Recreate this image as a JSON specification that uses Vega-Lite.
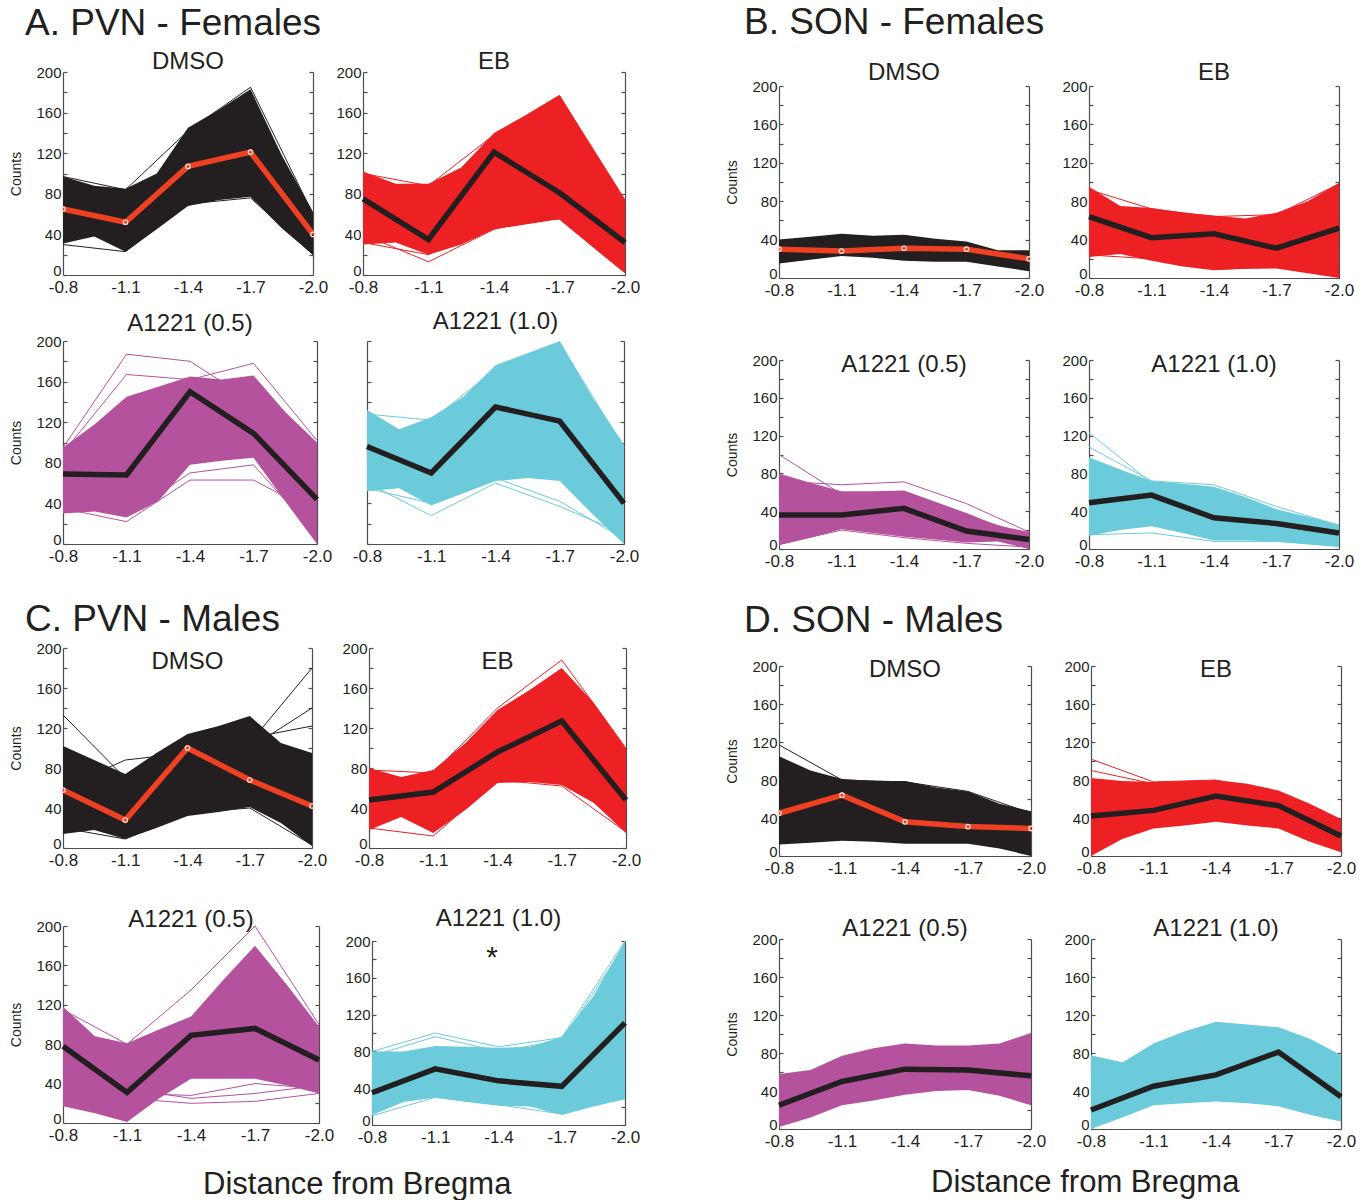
{
"$schema": "https://vega.github.io/schema/vega-lite/v6.json",
"padding": {"left": 9, "top": 4, "right": 0, "bottom": 0},
"background": "white",
"datasets": {
"band": [
{"p":"A1","x":-0.8,"lo":31,"hi":97},{"p":"A1","x":-0.95,"lo":38,"hi":88},{"p":"A1","x":-1.1,"lo":23,"hi":85},{"p":"A1","x":-1.25,"lo":45,"hi":100},{"p":"A1","x":-1.4,"lo":68,"hi":145},{"p":"A1","x":-1.55,"lo":74,"hi":163},{"p":"A1","x":-1.7,"lo":77,"hi":183},{"p":"A1","x":-1.85,"lo":46,"hi":118},{"p":"A1","x":-2,"lo":20,"hi":62},
{"p":"A2","x":-0.8,"lo":30,"hi":102},{"p":"A2","x":-0.95,"lo":32,"hi":90},{"p":"A2","x":-1.1,"lo":20,"hi":90},{"p":"A2","x":-1.25,"lo":30,"hi":106},{"p":"A2","x":-1.4,"lo":45,"hi":140},{"p":"A2","x":-1.55,"lo":50,"hi":158},{"p":"A2","x":-1.7,"lo":55,"hi":177},{"p":"A2","x":-1.85,"lo":28,"hi":126},{"p":"A2","x":-2,"lo":2,"hi":75},
{"p":"A3","x":-0.8,"lo":30,"hi":95},{"p":"A3","x":-0.95,"lo":32,"hi":118},{"p":"A3","x":-1.1,"lo":26,"hi":145},{"p":"A3","x":-1.25,"lo":42,"hi":155},{"p":"A3","x":-1.4,"lo":78,"hi":165},{"p":"A3","x":-1.55,"lo":82,"hi":162},{"p":"A3","x":-1.7,"lo":85,"hi":166},{"p":"A3","x":-1.85,"lo":42,"hi":130},{"p":"A3","x":-2,"lo":0,"hi":100},
{"p":"A4","x":-0.8,"lo":52,"hi":132},{"p":"A4","x":-0.95,"lo":55,"hi":113},{"p":"A4","x":-1.1,"lo":38,"hi":125},{"p":"A4","x":-1.25,"lo":50,"hi":145},{"p":"A4","x":-1.4,"lo":62,"hi":176},{"p":"A4","x":-1.55,"lo":65,"hi":188},{"p":"A4","x":-1.7,"lo":62,"hi":200},{"p":"A4","x":-1.85,"lo":30,"hi":145},{"p":"A4","x":-2,"lo":0,"hi":98},
{"p":"B1","x":-0.8,"lo":15,"hi":40},{"p":"B1","x":-0.95,"lo":19,"hi":43},{"p":"B1","x":-1.1,"lo":23,"hi":46},{"p":"B1","x":-1.25,"lo":21,"hi":44},{"p":"B1","x":-1.4,"lo":18,"hi":45},{"p":"B1","x":-1.55,"lo":17,"hi":41},{"p":"B1","x":-1.7,"lo":17,"hi":38},{"p":"B1","x":-1.85,"lo":12,"hi":29},{"p":"B1","x":-2,"lo":7,"hi":29},
{"p":"B2","x":-0.8,"lo":22,"hi":95},{"p":"B2","x":-0.95,"lo":25,"hi":75},{"p":"B2","x":-1.1,"lo":18,"hi":73},{"p":"B2","x":-1.25,"lo":12,"hi":68},{"p":"B2","x":-1.4,"lo":8,"hi":65},{"p":"B2","x":-1.55,"lo":10,"hi":62},{"p":"B2","x":-1.7,"lo":10,"hi":68},{"p":"B2","x":-1.85,"lo":5,"hi":80},{"p":"B2","x":-2,"lo":0,"hi":99},
{"p":"B3","x":-0.8,"lo":4,"hi":80},{"p":"B3","x":-0.95,"lo":12,"hi":70},{"p":"B3","x":-1.1,"lo":21,"hi":61},{"p":"B3","x":-1.25,"lo":17,"hi":61},{"p":"B3","x":-1.4,"lo":13,"hi":62},{"p":"B3","x":-1.55,"lo":10,"hi":50},{"p":"B3","x":-1.7,"lo":7,"hi":38},{"p":"B3","x":-1.85,"lo":8,"hi":25},{"p":"B3","x":-2,"lo":0,"hi":18},
{"p":"B4","x":-0.8,"lo":14,"hi":97},{"p":"B4","x":-0.95,"lo":20,"hi":84},{"p":"B4","x":-1.1,"lo":24,"hi":72},{"p":"B4","x":-1.25,"lo":17,"hi":69},{"p":"B4","x":-1.4,"lo":9,"hi":66},{"p":"B4","x":-1.55,"lo":9,"hi":55},{"p":"B4","x":-1.7,"lo":8,"hi":42},{"p":"B4","x":-1.85,"lo":5,"hi":34},{"p":"B4","x":-2,"lo":2,"hi":26},
{"p":"C1","x":-0.8,"lo":14,"hi":102},{"p":"C1","x":-0.95,"lo":18,"hi":88},{"p":"C1","x":-1.1,"lo":9,"hi":74},{"p":"C1","x":-1.25,"lo":20,"hi":95},{"p":"C1","x":-1.4,"lo":32,"hi":114},{"p":"C1","x":-1.55,"lo":36,"hi":122},{"p":"C1","x":-1.7,"lo":41,"hi":132},{"p":"C1","x":-1.85,"lo":25,"hi":105},{"p":"C1","x":-2,"lo":2,"hi":95},
{"p":"C2","x":-0.8,"lo":18,"hi":80},{"p":"C2","x":-0.95,"lo":31,"hi":71},{"p":"C2","x":-1.1,"lo":15,"hi":78},{"p":"C2","x":-1.25,"lo":38,"hi":105},{"p":"C2","x":-1.4,"lo":65,"hi":138},{"p":"C2","x":-1.55,"lo":66,"hi":158},{"p":"C2","x":-1.7,"lo":63,"hi":180},{"p":"C2","x":-1.85,"lo":45,"hi":145},{"p":"C2","x":-2,"lo":15,"hi":99},
{"p":"C3","x":-0.8,"lo":17,"hi":118},{"p":"C3","x":-0.95,"lo":10,"hi":88},{"p":"C3","x":-1.1,"lo":1,"hi":81},{"p":"C3","x":-1.25,"lo":25,"hi":95},{"p":"C3","x":-1.4,"lo":45,"hi":108},{"p":"C3","x":-1.55,"lo":45,"hi":145},{"p":"C3","x":-1.7,"lo":45,"hi":180},{"p":"C3","x":-1.85,"lo":38,"hi":140},{"p":"C3","x":-2,"lo":30,"hi":98},
{"p":"C4","x":-0.8,"lo":11,"hi":80},{"p":"C4","x":-0.95,"lo":25,"hi":80},{"p":"C4","x":-1.1,"lo":30,"hi":86},{"p":"C4","x":-1.25,"lo":25,"hi":85},{"p":"C4","x":-1.4,"lo":21,"hi":84},{"p":"C4","x":-1.55,"lo":20,"hi":85},{"p":"C4","x":-1.7,"lo":11,"hi":96},{"p":"C4","x":-1.85,"lo":20,"hi":140},{"p":"C4","x":-2,"lo":28,"hi":200},
{"p":"D1","x":-0.8,"lo":12,"hi":105},{"p":"D1","x":-0.95,"lo":14,"hi":90},{"p":"D1","x":-1.1,"lo":16,"hi":81},{"p":"D1","x":-1.25,"lo":15,"hi":79},{"p":"D1","x":-1.4,"lo":13,"hi":79},{"p":"D1","x":-1.55,"lo":13,"hi":72},{"p":"D1","x":-1.7,"lo":13,"hi":68},{"p":"D1","x":-1.85,"lo":8,"hi":55},{"p":"D1","x":-2,"lo":0,"hi":47},
{"p":"D2","x":-0.8,"lo":0,"hi":82},{"p":"D2","x":-0.95,"lo":18,"hi":79},{"p":"D2","x":-1.1,"lo":29,"hi":78},{"p":"D2","x":-1.25,"lo":32,"hi":79},{"p":"D2","x":-1.4,"lo":36,"hi":80},{"p":"D2","x":-1.55,"lo":32,"hi":76},{"p":"D2","x":-1.7,"lo":29,"hi":69},{"p":"D2","x":-1.85,"lo":15,"hi":55},{"p":"D2","x":-2,"lo":4,"hi":39},
{"p":"D3","x":-0.8,"lo":2,"hi":58},{"p":"D3","x":-0.95,"lo":12,"hi":62},{"p":"D3","x":-1.1,"lo":25,"hi":77},{"p":"D3","x":-1.25,"lo":30,"hi":85},{"p":"D3","x":-1.4,"lo":36,"hi":90},{"p":"D3","x":-1.55,"lo":40,"hi":88},{"p":"D3","x":-1.7,"lo":41,"hi":88},{"p":"D3","x":-1.85,"lo":35,"hi":90},{"p":"D3","x":-2,"lo":25,"hi":101},
{"p":"D4","x":-0.8,"lo":0,"hi":77},{"p":"D4","x":-0.95,"lo":12,"hi":70},{"p":"D4","x":-1.1,"lo":25,"hi":90},{"p":"D4","x":-1.25,"lo":27,"hi":103},{"p":"D4","x":-1.4,"lo":29,"hi":113},{"p":"D4","x":-1.55,"lo":27,"hi":110},{"p":"D4","x":-1.7,"lo":24,"hi":107},{"p":"D4","x":-1.85,"lo":15,"hi":95},{"p":"D4","x":-2,"lo":8,"hi":78}
],
"lines": [
{"p":"A1","x":-0.8,"m":65,"s1":97,"s2":30},{"p":"A1","x":-1.1,"m":52,"s1":84,"s2":23},{"p":"A1","x":-1.4,"m":107,"s1":142,"s2":70},{"p":"A1","x":-1.7,"m":121,"s1":185,"s2":76},{"p":"A1","x":-2,"m":40,"s1":60,"s2":20},
{"p":"A2","x":-0.8,"m":75,"s1":40,"s2":100,"s3":32},{"p":"A2","x":-1.1,"m":35,"s1":13,"s2":88,"s3":20},{"p":"A2","x":-1.4,"m":121,"s1":45,"s2":138,"s3":55},{"p":"A2","x":-1.7,"m":81,"s1":60,"s2":177,"s3":55},{"p":"A2","x":-2,"m":32,"s1":5,"s2":72,"s3":2},
{"p":"A3","x":-0.8,"m":69,"s1":95,"s2":90,"s3":35,"s4":38},{"p":"A3","x":-1.1,"m":68,"s1":187,"s2":167,"s3":22,"s4":28},{"p":"A3","x":-1.4,"m":150,"s1":180,"s2":162,"s3":63,"s4":70},{"p":"A3","x":-1.7,"m":109,"s1":140,"s2":178,"s3":63,"s4":78},{"p":"A3","x":-2,"m":44,"s1":75,"s2":102,"s3":30,"s4":8},
{"p":"A4","x":-0.8,"m":96,"s1":60,"s2":55,"s3":128},{"p":"A4","x":-1.1,"m":70,"s1":28,"s2":40,"s3":122},{"p":"A4","x":-1.4,"m":135,"s1":60,"s2":65,"s3":172},{"p":"A4","x":-1.7,"m":121,"s1":37,"s2":42,"s3":198},{"p":"A4","x":-2,"m":40,"s1":10,"s2":5,"s3":95},
{"p":"B1","x":-0.8,"m":30},{"p":"B1","x":-1.1,"m":28},{"p":"B1","x":-1.4,"m":31},{"p":"B1","x":-1.7,"m":30},{"p":"B1","x":-2,"m":20},
{"p":"B2","x":-0.8,"m":64,"s1":92,"s2":24},{"p":"B2","x":-1.1,"m":42,"s1":72,"s2":20},{"p":"B2","x":-1.4,"m":46,"s1":64,"s2":9},{"p":"B2","x":-1.7,"m":31,"s1":66,"s2":11},{"p":"B2","x":-2,"m":52,"s1":98,"s2":2},
{"p":"B3","x":-0.8,"m":36,"s1":100,"s2":72,"s3":5},{"p":"B3","x":-1.1,"m":36,"s1":58,"s2":68,"s3":20},{"p":"B3","x":-1.4,"m":43,"s1":55,"s2":71,"s3":12},{"p":"B3","x":-1.7,"m":19,"s1":35,"s2":48,"s3":6},{"p":"B3","x":-2,"m":10,"s1":15,"s2":18,"s3":2},
{"p":"B4","x":-0.8,"m":49,"s1":123,"s2":108,"s3":15,"s4":20},{"p":"B4","x":-1.1,"m":57,"s1":70,"s2":72,"s3":17,"s4":28},{"p":"B4","x":-1.4,"m":33,"s1":60,"s2":68,"s3":8,"s4":12},{"p":"B4","x":-1.7,"m":27,"s1":40,"s2":45,"s3":8,"s4":10},{"p":"B4","x":-2,"m":17,"s1":22,"s2":25,"s3":3,"s4":5},
{"p":"C1","x":-0.8,"m":58,"s1":133,"s2":60,"s3":50,"s4":20},{"p":"C1","x":-1.1,"m":28,"s1":70,"s2":88,"s3":45,"s4":9},{"p":"C1","x":-1.4,"m":100,"s1":95,"s2":95,"s3":90,"s4":35},{"p":"C1","x":-1.7,"m":68,"s1":105,"s2":100,"s3":110,"s4":40},{"p":"C1","x":-2,"m":42,"s1":180,"s2":140,"s3":122,"s4":3},
{"p":"C2","x":-0.8,"m":48,"s1":78,"s2":20},{"p":"C2","x":-1.1,"m":56,"s1":75,"s2":12},{"p":"C2","x":-1.4,"m":96,"s1":140,"s2":68},{"p":"C2","x":-1.7,"m":127,"s1":188,"s2":62},{"p":"C2","x":-2,"m":48,"s1":100,"s2":16},
{"p":"C3","x":-0.8,"m":78,"s1":115,"s2":30,"s3":25,"s4":40},{"p":"C3","x":-1.1,"m":31,"s1":80,"s2":25,"s3":30,"s4":35},{"p":"C3","x":-1.4,"m":89,"s1":135,"s2":20,"s3":28,"s4":25},{"p":"C3","x":-1.7,"m":96,"s1":200,"s2":22,"s3":40,"s4":30},{"p":"C3","x":-2,"m":64,"s1":100,"s2":30,"s3":35,"s4":38},
{"p":"C4","x":-0.8,"m":35,"s1":80,"s2":10,"s3":75},{"p":"C4","x":-1.1,"m":61,"s1":100,"s2":30,"s3":96},{"p":"C4","x":-1.4,"m":48,"s1":85,"s2":22,"s3":80},{"p":"C4","x":-1.7,"m":42,"s1":95,"s2":12,"s3":92},{"p":"C4","x":-2,"m":111,"s1":200,"s2":35,"s3":195},
{"p":"D1","x":-0.8,"m":45,"s1":117},{"p":"D1","x":-1.1,"m":64,"s1":80},{"p":"D1","x":-1.4,"m":36,"s1":78},{"p":"D1","x":-1.7,"m":31,"s1":68},{"p":"D1","x":-2,"m":29,"s1":45},
{"p":"D2","x":-0.8,"m":42,"s1":102,"s2":90},{"p":"D2","x":-1.1,"m":48,"s1":78,"s2":76},{"p":"D2","x":-1.4,"m":63,"s1":80,"s2":78},{"p":"D2","x":-1.7,"m":53,"s1":65,"s2":60},{"p":"D2","x":-2,"m":21,"s1":38,"s2":35},
{"p":"D3","x":-0.8,"m":25},{"p":"D3","x":-1.1,"m":50},{"p":"D3","x":-1.4,"m":63},{"p":"D3","x":-1.7,"m":62},{"p":"D3","x":-2,"m":56},
{"p":"D4","x":-0.8,"m":20,"s1":77,"s2":45},{"p":"D4","x":-1.1,"m":45,"s1":62,"s2":85},{"p":"D4","x":-1.4,"m":57,"s1":58,"s2":110},{"p":"D4","x":-1.7,"m":81,"s1":50,"s2":105},{"p":"D4","x":-2,"m":34,"s1":70,"s2":75}
],
"marks": [{"p":"C4","x":-1.37,"y":182,"t":"*"}]
},
"spacing": 84,
"hconcat": [
{"spacing": 37, "vconcat": [
 {"title": {"text": "A. PVN - Females", "fontSize": 37, "anchor": "start", "dx": 15, "offset": 7}, "spacing": 15, "vconcat": [
  {"spacing": 7, "hconcat": [
   {"width": 250, "height": 203, "title": {"text": "DMSO", "offset": -9, "frame": "group"},
    "encoding": {"x": {"field": "x", "type": "quantitative", "scale": {"domain": [-2, -0.8], "reverse": true, "nice": false, "zero": false}, "axis": {"values": [-0.8, -1.1, -1.4, -1.7, -2], "labelExpr": "'-' + format(-datum.value, '.1f')", "title": null}}},
    "layer": [
     {"data": {"name": "band"}, "transform": [{"filter": "datum.p == 'A1'"}], "mark": {"type": "area", "color": "#231f20"}, "encoding": {"y": {"field": "lo", "type": "quantitative", "scale": {"domain": [0, 200], "nice": false}, "axis": {"values": [0,20,40,60,80,100,120,140,160,180,200], "labelExpr": "datum.value % 40 == 0 ? datum.label : ''", "title": "Counts"}}, "y2": {"field": "hi"}}},
     {"data": {"name": "lines"}, "transform": [{"filter": "datum.p == 'A1'"}, {"fold": ["s1", "s2", "s3", "s4"]}], "mark": {"type": "line", "color": "#231f20", "strokeWidth": 1}, "encoding": {"y": {"field": "value", "type": "quantitative", "scale": {"domain": [0, 200], "nice": false}, "axis": {"orient": "right", "values": [0,20,40,60,80,100,120,140,160,180,200], "labels": false, "title": null}}, "detail": {"field": "key"}}},
     {"data": {"name": "lines"}, "transform": [{"filter": "datum.p == 'A1'"}], "mark": {"type": "line", "color": "#ee4023", "strokeWidth": 5.5, "point": {"filled": false, "color": "#fde2da", "size": 20, "strokeWidth": 1.2}}, "encoding": {"y": {"field": "m", "type": "quantitative", "scale": {"domain": [0, 200], "nice": false}, "axis": null}}}
    ], "resolve": {"axis": {"y": "independent"}}},
   {"width": 262, "height": 203, "title": {"text": "EB", "offset": -9, "frame": "group"},
    "encoding": {"x": {"field": "x", "type": "quantitative", "scale": {"domain": [-2, -0.8], "reverse": true, "nice": false, "zero": false}, "axis": {"values": [-0.8, -1.1, -1.4, -1.7, -2], "labelExpr": "'-' + format(-datum.value, '.1f')", "title": null}}},
    "layer": [
     {"data": {"name": "band"}, "transform": [{"filter": "datum.p == 'A2'"}], "mark": {"type": "area", "color": "#ed2024"}, "encoding": {"y": {"field": "lo", "type": "quantitative", "scale": {"domain": [0, 200], "nice": false}, "axis": {"values": [0,20,40,60,80,100,120,140,160,180,200], "labelExpr": "datum.value % 40 == 0 ? datum.label : ''", "title": null}}, "y2": {"field": "hi"}}},
     {"data": {"name": "lines"}, "transform": [{"filter": "datum.p == 'A2'"}, {"fold": ["s1", "s2", "s3", "s4"]}], "mark": {"type": "line", "color": "#ed2024", "strokeWidth": 1}, "encoding": {"y": {"field": "value", "type": "quantitative", "scale": {"domain": [0, 200], "nice": false}, "axis": {"orient": "right", "values": [0,20,40,60,80,100,120,140,160,180,200], "labels": false, "title": null}}, "detail": {"field": "key"}}},
     {"data": {"name": "lines"}, "transform": [{"filter": "datum.p == 'A2'"}], "mark": {"type": "line", "color": "#231f20", "strokeWidth": 5.5}, "encoding": {"y": {"field": "m", "type": "quantitative", "scale": {"domain": [0, 200], "nice": false}, "axis": null}}}
    ], "resolve": {"axis": {"y": "independent"}}}
  ]},
  {"spacing": 20, "hconcat": [
   {"width": 254, "height": 203, "title": {"text": "A1221 (0.5)", "offset": -2, "frame": "group"},
    "encoding": {"x": {"field": "x", "type": "quantitative", "scale": {"domain": [-2, -0.8], "reverse": true, "nice": false, "zero": false}, "axis": {"values": [-0.8, -1.1, -1.4, -1.7, -2], "labelExpr": "'-' + format(-datum.value, '.1f')", "title": null}}},
    "layer": [
     {"data": {"name": "band"}, "transform": [{"filter": "datum.p == 'A3'"}], "mark": {"type": "area", "color": "#b5529e"}, "encoding": {"y": {"field": "lo", "type": "quantitative", "scale": {"domain": [0, 200], "nice": false}, "axis": {"values": [0,20,40,60,80,100,120,140,160,180,200], "labelExpr": "datum.value % 40 == 0 ? datum.label : ''", "title": "Counts"}}, "y2": {"field": "hi"}}},
     {"data": {"name": "lines"}, "transform": [{"filter": "datum.p == 'A3'"}, {"fold": ["s1", "s2", "s3", "s4"]}], "mark": {"type": "line", "color": "#b5529e", "strokeWidth": 1}, "encoding": {"y": {"field": "value", "type": "quantitative", "scale": {"domain": [0, 200], "nice": false}, "axis": {"orient": "right", "values": [0,20,40,60,80,100,120,140,160,180,200], "labels": false, "title": null}}, "detail": {"field": "key"}}},
     {"data": {"name": "lines"}, "transform": [{"filter": "datum.p == 'A3'"}], "mark": {"type": "line", "color": "#231f20", "strokeWidth": 5.5}, "encoding": {"y": {"field": "m", "type": "quantitative", "scale": {"domain": [0, 200], "nice": false}, "axis": null}}}
    ], "resolve": {"axis": {"y": "independent"}}},
   {"width": 257, "height": 203, "title": {"text": "A1221 (1.0)", "offset": 6, "frame": "group"},
    "encoding": {"x": {"field": "x", "type": "quantitative", "scale": {"domain": [-2, -0.8], "reverse": true, "nice": false, "zero": false}, "axis": {"values": [-0.8, -1.1, -1.4, -1.7, -2], "labelExpr": "'-' + format(-datum.value, '.1f')", "title": null}}},
    "layer": [
     {"data": {"name": "band"}, "transform": [{"filter": "datum.p == 'A4'"}], "mark": {"type": "area", "color": "#6ccbdb"}, "encoding": {"y": {"field": "lo", "type": "quantitative", "scale": {"domain": [0, 200], "nice": false}, "axis": {"values": [0,20,40,60,80,100,120,140,160,180,200], "labels": false, "title": null}}, "y2": {"field": "hi"}}},
     {"data": {"name": "lines"}, "transform": [{"filter": "datum.p == 'A4'"}, {"fold": ["s1", "s2", "s3", "s4"]}], "mark": {"type": "line", "color": "#6ccbdb", "strokeWidth": 1}, "encoding": {"y": {"field": "value", "type": "quantitative", "scale": {"domain": [0, 200], "nice": false}, "axis": {"orient": "right", "values": [0,20,40,60,80,100,120,140,160,180,200], "labels": false, "title": null}}, "detail": {"field": "key"}}},
     {"data": {"name": "lines"}, "transform": [{"filter": "datum.p == 'A4'"}], "mark": {"type": "line", "color": "#231f20", "strokeWidth": 5.5}, "encoding": {"y": {"field": "m", "type": "quantitative", "scale": {"domain": [0, 200], "nice": false}, "axis": null}}}
    ], "resolve": {"axis": {"y": "independent"}}}
  ]}
 ]},
 {"title": {"text": "C. PVN - Males", "fontSize": 37, "anchor": "start", "dx": 15, "offset": 2}, "spacing": 39, "vconcat": [
  {"spacing": 14, "hconcat": [
   {"width": 249, "height": 200, "title": {"text": "DMSO", "offset": -33, "frame": "group"},
    "encoding": {"x": {"field": "x", "type": "quantitative", "scale": {"domain": [-2, -0.8], "reverse": true, "nice": false, "zero": false}, "axis": {"values": [-0.8, -1.1, -1.4, -1.7, -2], "labelExpr": "'-' + format(-datum.value, '.1f')", "title": null}}},
    "layer": [
     {"data": {"name": "band"}, "transform": [{"filter": "datum.p == 'C1'"}], "mark": {"type": "area", "color": "#231f20"}, "encoding": {"y": {"field": "lo", "type": "quantitative", "scale": {"domain": [0, 200], "nice": false}, "axis": {"values": [0,20,40,60,80,100,120,140,160,180,200], "labelExpr": "datum.value % 40 == 0 ? datum.label : ''", "title": "Counts"}}, "y2": {"field": "hi"}}},
     {"data": {"name": "lines"}, "transform": [{"filter": "datum.p == 'C1'"}, {"fold": ["s1", "s2", "s3", "s4"]}], "mark": {"type": "line", "color": "#231f20", "strokeWidth": 1}, "encoding": {"y": {"field": "value", "type": "quantitative", "scale": {"domain": [0, 200], "nice": false}, "axis": {"orient": "right", "values": [0,20,40,60,80,100,120,140,160,180,200], "labels": false, "title": null}}, "detail": {"field": "key"}}},
     {"data": {"name": "lines"}, "transform": [{"filter": "datum.p == 'C1'"}], "mark": {"type": "line", "color": "#ee4023", "strokeWidth": 5.5, "point": {"filled": false, "color": "#fde2da", "size": 20, "strokeWidth": 1.2}}, "encoding": {"y": {"field": "m", "type": "quantitative", "scale": {"domain": [0, 200], "nice": false}, "axis": null}}}
    ], "resolve": {"axis": {"y": "independent"}}},
   {"width": 257, "height": 200, "title": {"text": "EB", "offset": -33, "frame": "group"},
    "encoding": {"x": {"field": "x", "type": "quantitative", "scale": {"domain": [-2, -0.8], "reverse": true, "nice": false, "zero": false}, "axis": {"values": [-0.8, -1.1, -1.4, -1.7, -2], "labelExpr": "'-' + format(-datum.value, '.1f')", "title": null}}},
    "layer": [
     {"data": {"name": "band"}, "transform": [{"filter": "datum.p == 'C2'"}], "mark": {"type": "area", "color": "#ed2024"}, "encoding": {"y": {"field": "lo", "type": "quantitative", "scale": {"domain": [0, 200], "nice": false}, "axis": {"values": [0,20,40,60,80,100,120,140,160,180,200], "labelExpr": "datum.value % 40 == 0 ? datum.label : ''", "title": null}}, "y2": {"field": "hi"}}},
     {"data": {"name": "lines"}, "transform": [{"filter": "datum.p == 'C2'"}, {"fold": ["s1", "s2", "s3", "s4"]}], "mark": {"type": "line", "color": "#ed2024", "strokeWidth": 1}, "encoding": {"y": {"field": "value", "type": "quantitative", "scale": {"domain": [0, 200], "nice": false}, "axis": {"orient": "right", "values": [0,20,40,60,80,100,120,140,160,180,200], "labels": false, "title": null}}, "detail": {"field": "key"}}},
     {"data": {"name": "lines"}, "transform": [{"filter": "datum.p == 'C2'"}], "mark": {"type": "line", "color": "#231f20", "strokeWidth": 5.5}, "encoding": {"y": {"field": "m", "type": "quantitative", "scale": {"domain": [0, 200], "nice": false}, "axis": null}}}
    ], "resolve": {"axis": {"y": "independent"}}}
  ]},
  {"title": {"text": "Distance from Bregma", "orient": "bottom", "fontSize": 31, "offset": 25, "anchor": "start", "frame": "group", "dx": 140}, "spacing": 10, "hconcat": [
   {"width": 256, "height": 197, "title": {"text": "A1221 (0.5)", "offset": -13, "frame": "group"},
    "encoding": {"x": {"field": "x", "type": "quantitative", "scale": {"domain": [-2, -0.8], "reverse": true, "nice": false, "zero": false}, "axis": {"values": [-0.8, -1.1, -1.4, -1.7, -2], "labelExpr": "'-' + format(-datum.value, '.1f')", "title": null}}},
    "layer": [
     {"data": {"name": "band"}, "transform": [{"filter": "datum.p == 'C3'"}], "mark": {"type": "area", "color": "#b5529e"}, "encoding": {"y": {"field": "lo", "type": "quantitative", "scale": {"domain": [0, 200], "nice": false}, "axis": {"values": [0,20,40,60,80,100,120,140,160,180,200], "labelExpr": "datum.value % 40 == 0 ? datum.label : ''", "title": "Counts"}}, "y2": {"field": "hi"}}},
     {"data": {"name": "lines"}, "transform": [{"filter": "datum.p == 'C3'"}, {"fold": ["s1", "s2", "s3", "s4"]}], "mark": {"type": "line", "color": "#b5529e", "strokeWidth": 1}, "encoding": {"y": {"field": "value", "type": "quantitative", "scale": {"domain": [0, 200], "nice": false}, "axis": {"orient": "right", "values": [0,20,40,60,80,100,120,140,160,180,200], "labels": false, "title": null}}, "detail": {"field": "key"}}},
     {"data": {"name": "lines"}, "transform": [{"filter": "datum.p == 'C3'"}], "mark": {"type": "line", "color": "#231f20", "strokeWidth": 5.5}, "encoding": {"y": {"field": "m", "type": "quantitative", "scale": {"domain": [0, 200], "nice": false}, "axis": null}}}
    ], "resolve": {"axis": {"y": "independent"}}},
   {"width": 253, "height": 199, "title": {"text": "A1221 (1.0)", "offset": -5, "frame": "group"},
    "encoding": {"x": {"field": "x", "type": "quantitative", "scale": {"domain": [-2, -0.8], "reverse": true, "nice": false, "zero": false}, "axis": {"values": [-0.8, -1.1, -1.4, -1.7, -2], "labelExpr": "'-' + format(-datum.value, '.1f')", "title": null}}},
    "layer": [
     {"data": {"name": "band"}, "transform": [{"filter": "datum.p == 'C4'"}], "mark": {"type": "area", "color": "#6ccbdb"}, "encoding": {"y": {"field": "lo", "type": "quantitative", "scale": {"domain": [0, 200], "nice": false, "range": [199, 15]}, "axis": {"values": [0,20,40,60,80,100,120,140,160,180,200], "labelExpr": "datum.value % 40 == 0 ? datum.label : ''", "title": null}}, "y2": {"field": "hi"}}},
     {"data": {"name": "lines"}, "transform": [{"filter": "datum.p == 'C4'"}, {"fold": ["s1", "s2", "s3", "s4"]}], "mark": {"type": "line", "color": "#6ccbdb", "strokeWidth": 1}, "encoding": {"y": {"field": "value", "type": "quantitative", "scale": {"domain": [0, 200], "nice": false, "range": [199, 15]}, "axis": {"orient": "right", "values": [0,20,40,60,80,100,120,140,160,180,200], "labels": false, "title": null}}, "detail": {"field": "key"}}},
     {"data": {"name": "lines"}, "transform": [{"filter": "datum.p == 'C4'"}], "mark": {"type": "line", "color": "#231f20", "strokeWidth": 5.5}, "encoding": {"y": {"field": "m", "type": "quantitative", "scale": {"domain": [0, 200], "nice": false, "range": [199, 15]}, "axis": null}}},
     {"data": {"name": "marks"}, "mark": {"type": "text", "fontSize": 30, "color": "#231f20", "baseline": "middle"}, "encoding": {"y": {"field": "y", "type": "quantitative", "scale": {"domain": [0, 200], "nice": false, "range": [199, 15]}, "axis": null}, "text": {"field": "t"}}}
    ], "resolve": {"axis": {"y": "independent"}}}
  ]}
 ]}
]},
{"spacing": 33, "vconcat": [
 {"title": {"text": "B. SON - Females", "fontSize": 37, "anchor": "start", "dx": 18, "offset": 19}, "spacing": 55, "vconcat": [
  {"spacing": 17, "hconcat": [
   {"width": 250, "height": 206, "title": {"text": "DMSO", "offset": -13, "frame": "group"},
    "encoding": {"x": {"field": "x", "type": "quantitative", "scale": {"domain": [-2, -0.8], "reverse": true, "nice": false, "zero": false}, "axis": {"values": [-0.8, -1.1, -1.4, -1.7, -2], "labelExpr": "'-' + format(-datum.value, '.1f')", "title": null}}},
    "layer": [
     {"data": {"name": "band"}, "transform": [{"filter": "datum.p == 'B1'"}], "mark": {"type": "area", "color": "#231f20"}, "encoding": {"y": {"field": "lo", "type": "quantitative", "scale": {"domain": [0, 200], "nice": false, "range": [206, 14]}, "axis": {"values": [0,20,40,60,80,100,120,140,160,180,200], "labelExpr": "datum.value % 40 == 0 ? datum.label : ''", "title": "Counts"}}, "y2": {"field": "hi"}}},
     {"data": {"name": "lines"}, "transform": [{"filter": "datum.p == 'B1'"}, {"fold": ["s1", "s2", "s3", "s4"]}], "mark": {"type": "line", "color": "#231f20", "strokeWidth": 1}, "encoding": {"y": {"field": "value", "type": "quantitative", "scale": {"domain": [0, 200], "nice": false, "range": [206, 14]}, "axis": {"orient": "right", "values": [0,20,40,60,80,100,120,140,160,180,200], "labels": false, "title": null}}, "detail": {"field": "key"}}},
     {"data": {"name": "lines"}, "transform": [{"filter": "datum.p == 'B1'"}], "mark": {"type": "line", "color": "#ee4023", "strokeWidth": 5.5, "point": {"filled": false, "color": "#fde2da", "size": 20, "strokeWidth": 1.2}}, "encoding": {"y": {"field": "m", "type": "quantitative", "scale": {"domain": [0, 200], "nice": false, "range": [206, 14]}, "axis": null}}}
    ], "resolve": {"axis": {"y": "independent"}}},
   {"width": 250, "height": 206, "title": {"text": "EB", "offset": -13, "frame": "group"},
    "encoding": {"x": {"field": "x", "type": "quantitative", "scale": {"domain": [-2, -0.8], "reverse": true, "nice": false, "zero": false}, "axis": {"values": [-0.8, -1.1, -1.4, -1.7, -2], "labelExpr": "'-' + format(-datum.value, '.1f')", "title": null}}},
    "layer": [
     {"data": {"name": "band"}, "transform": [{"filter": "datum.p == 'B2'"}], "mark": {"type": "area", "color": "#ed2024"}, "encoding": {"y": {"field": "lo", "type": "quantitative", "scale": {"domain": [0, 200], "nice": false, "range": [206, 14]}, "axis": {"values": [0,20,40,60,80,100,120,140,160,180,200], "labelExpr": "datum.value % 40 == 0 ? datum.label : ''", "title": null}}, "y2": {"field": "hi"}}},
     {"data": {"name": "lines"}, "transform": [{"filter": "datum.p == 'B2'"}, {"fold": ["s1", "s2", "s3", "s4"]}], "mark": {"type": "line", "color": "#ed2024", "strokeWidth": 1}, "encoding": {"y": {"field": "value", "type": "quantitative", "scale": {"domain": [0, 200], "nice": false, "range": [206, 14]}, "axis": {"orient": "right", "values": [0,20,40,60,80,100,120,140,160,180,200], "labels": false, "title": null}}, "detail": {"field": "key"}}},
     {"data": {"name": "lines"}, "transform": [{"filter": "datum.p == 'B2'"}], "mark": {"type": "line", "color": "#231f20", "strokeWidth": 5.5}, "encoding": {"y": {"field": "m", "type": "quantitative", "scale": {"domain": [0, 200], "nice": false, "range": [206, 14]}, "axis": null}}}
    ], "resolve": {"axis": {"y": "independent"}}}
  ]},
  {"spacing": 17, "hconcat": [
   {"width": 250, "height": 189, "title": {"text": "A1221 (0.5)", "offset": -24, "frame": "group"},
    "encoding": {"x": {"field": "x", "type": "quantitative", "scale": {"domain": [-2, -0.8], "reverse": true, "nice": false, "zero": false}, "axis": {"values": [-0.8, -1.1, -1.4, -1.7, -2], "labelExpr": "'-' + format(-datum.value, '.1f')", "title": null}}},
    "layer": [
     {"data": {"name": "band"}, "transform": [{"filter": "datum.p == 'B3'"}], "mark": {"type": "area", "color": "#b5529e"}, "encoding": {"y": {"field": "lo", "type": "quantitative", "scale": {"domain": [0, 200], "nice": false}, "axis": {"values": [0,20,40,60,80,100,120,140,160,180,200], "labelExpr": "datum.value % 40 == 0 ? datum.label : ''", "title": "Counts"}}, "y2": {"field": "hi"}}},
     {"data": {"name": "lines"}, "transform": [{"filter": "datum.p == 'B3'"}, {"fold": ["s1", "s2", "s3", "s4"]}], "mark": {"type": "line", "color": "#b5529e", "strokeWidth": 1}, "encoding": {"y": {"field": "value", "type": "quantitative", "scale": {"domain": [0, 200], "nice": false}, "axis": {"orient": "right", "values": [0,20,40,60,80,100,120,140,160,180,200], "labels": false, "title": null}}, "detail": {"field": "key"}}},
     {"data": {"name": "lines"}, "transform": [{"filter": "datum.p == 'B3'"}], "mark": {"type": "line", "color": "#231f20", "strokeWidth": 5.5}, "encoding": {"y": {"field": "m", "type": "quantitative", "scale": {"domain": [0, 200], "nice": false}, "axis": null}}}
    ], "resolve": {"axis": {"y": "independent"}}},
   {"width": 250, "height": 189, "title": {"text": "A1221 (1.0)", "offset": -24, "frame": "group"},
    "encoding": {"x": {"field": "x", "type": "quantitative", "scale": {"domain": [-2, -0.8], "reverse": true, "nice": false, "zero": false}, "axis": {"values": [-0.8, -1.1, -1.4, -1.7, -2], "labelExpr": "'-' + format(-datum.value, '.1f')", "title": null}}},
    "layer": [
     {"data": {"name": "band"}, "transform": [{"filter": "datum.p == 'B4'"}], "mark": {"type": "area", "color": "#6ccbdb"}, "encoding": {"y": {"field": "lo", "type": "quantitative", "scale": {"domain": [0, 200], "nice": false}, "axis": {"values": [0,20,40,60,80,100,120,140,160,180,200], "labelExpr": "datum.value % 40 == 0 ? datum.label : ''", "title": null}}, "y2": {"field": "hi"}}},
     {"data": {"name": "lines"}, "transform": [{"filter": "datum.p == 'B4'"}, {"fold": ["s1", "s2", "s3", "s4"]}], "mark": {"type": "line", "color": "#6ccbdb", "strokeWidth": 1}, "encoding": {"y": {"field": "value", "type": "quantitative", "scale": {"domain": [0, 200], "nice": false}, "axis": {"orient": "right", "values": [0,20,40,60,80,100,120,140,160,180,200], "labels": false, "title": null}}, "detail": {"field": "key"}}},
     {"data": {"name": "lines"}, "transform": [{"filter": "datum.p == 'B4'"}], "mark": {"type": "line", "color": "#231f20", "strokeWidth": 5.5}, "encoding": {"y": {"field": "m", "type": "quantitative", "scale": {"domain": [0, 200], "nice": false}, "axis": null}}}
    ], "resolve": {"axis": {"y": "independent"}}}
  ]}
 ]},
 {"title": {"text": "D. SON - Males", "fontSize": 37, "anchor": "start", "dx": 18, "offset": 18}, "spacing": 41, "vconcat": [
  {"spacing": 17, "hconcat": [
   {"width": 252, "height": 190, "title": {"text": "DMSO", "offset": -23, "frame": "group"},
    "encoding": {"x": {"field": "x", "type": "quantitative", "scale": {"domain": [-2, -0.8], "reverse": true, "nice": false, "zero": false}, "axis": {"values": [-0.8, -1.1, -1.4, -1.7, -2], "labelExpr": "'-' + format(-datum.value, '.1f')", "title": null}}},
    "layer": [
     {"data": {"name": "band"}, "transform": [{"filter": "datum.p == 'D1'"}], "mark": {"type": "area", "color": "#231f20"}, "encoding": {"y": {"field": "lo", "type": "quantitative", "scale": {"domain": [0, 200], "nice": false}, "axis": {"values": [0,20,40,60,80,100,120,140,160,180,200], "labelExpr": "datum.value % 40 == 0 ? datum.label : ''", "title": "Counts"}}, "y2": {"field": "hi"}}},
     {"data": {"name": "lines"}, "transform": [{"filter": "datum.p == 'D1'"}, {"fold": ["s1", "s2", "s3", "s4"]}], "mark": {"type": "line", "color": "#231f20", "strokeWidth": 1}, "encoding": {"y": {"field": "value", "type": "quantitative", "scale": {"domain": [0, 200], "nice": false}, "axis": {"orient": "right", "values": [0,20,40,60,80,100,120,140,160,180,200], "labels": false, "title": null}}, "detail": {"field": "key"}}},
     {"data": {"name": "lines"}, "transform": [{"filter": "datum.p == 'D1'"}], "mark": {"type": "line", "color": "#ee4023", "strokeWidth": 5.5, "point": {"filled": false, "color": "#fde2da", "size": 20, "strokeWidth": 1.2}}, "encoding": {"y": {"field": "m", "type": "quantitative", "scale": {"domain": [0, 200], "nice": false}, "axis": null}}}
    ], "resolve": {"axis": {"y": "independent"}}},
   {"width": 250, "height": 190, "title": {"text": "EB", "offset": -23, "frame": "group"},
    "encoding": {"x": {"field": "x", "type": "quantitative", "scale": {"domain": [-2, -0.8], "reverse": true, "nice": false, "zero": false}, "axis": {"values": [-0.8, -1.1, -1.4, -1.7, -2], "labelExpr": "'-' + format(-datum.value, '.1f')", "title": null}}},
    "layer": [
     {"data": {"name": "band"}, "transform": [{"filter": "datum.p == 'D2'"}], "mark": {"type": "area", "color": "#ed2024"}, "encoding": {"y": {"field": "lo", "type": "quantitative", "scale": {"domain": [0, 200], "nice": false}, "axis": {"values": [0,20,40,60,80,100,120,140,160,180,200], "labelExpr": "datum.value % 40 == 0 ? datum.label : ''", "title": null}}, "y2": {"field": "hi"}}},
     {"data": {"name": "lines"}, "transform": [{"filter": "datum.p == 'D2'"}, {"fold": ["s1", "s2", "s3", "s4"]}], "mark": {"type": "line", "color": "#ed2024", "strokeWidth": 1}, "encoding": {"y": {"field": "value", "type": "quantitative", "scale": {"domain": [0, 200], "nice": false}, "axis": {"orient": "right", "values": [0,20,40,60,80,100,120,140,160,180,200], "labels": false, "title": null}}, "detail": {"field": "key"}}},
     {"data": {"name": "lines"}, "transform": [{"filter": "datum.p == 'D2'"}], "mark": {"type": "line", "color": "#231f20", "strokeWidth": 5.5}, "encoding": {"y": {"field": "m", "type": "quantitative", "scale": {"domain": [0, 200], "nice": false}, "axis": null}}}
    ], "resolve": {"axis": {"y": "independent"}}}
  ]},
  {"title": {"text": "Distance from Bregma", "orient": "bottom", "fontSize": 31, "offset": 19, "anchor": "start", "frame": "group", "dx": 152}, "spacing": 17, "hconcat": [
   {"width": 252, "height": 190, "title": {"text": "A1221 (0.5)", "offset": -9, "frame": "group"},
    "encoding": {"x": {"field": "x", "type": "quantitative", "scale": {"domain": [-2, -0.8], "reverse": true, "nice": false, "zero": false}, "axis": {"values": [-0.8, -1.1, -1.4, -1.7, -2], "labelExpr": "'-' + format(-datum.value, '.1f')", "title": null}}},
    "layer": [
     {"data": {"name": "band"}, "transform": [{"filter": "datum.p == 'D3'"}], "mark": {"type": "area", "color": "#b5529e"}, "encoding": {"y": {"field": "lo", "type": "quantitative", "scale": {"domain": [0, 200], "nice": false}, "axis": {"values": [0,20,40,60,80,100,120,140,160,180,200], "labelExpr": "datum.value % 40 == 0 ? datum.label : ''", "title": "Counts"}}, "y2": {"field": "hi"}}},
     {"data": {"name": "lines"}, "transform": [{"filter": "datum.p == 'D3'"}, {"fold": ["s1", "s2", "s3", "s4"]}], "mark": {"type": "line", "color": "#b5529e", "strokeWidth": 1}, "encoding": {"y": {"field": "value", "type": "quantitative", "scale": {"domain": [0, 200], "nice": false}, "axis": {"orient": "right", "values": [0,20,40,60,80,100,120,140,160,180,200], "labels": false, "title": null}}, "detail": {"field": "key"}}},
     {"data": {"name": "lines"}, "transform": [{"filter": "datum.p == 'D3'"}], "mark": {"type": "line", "color": "#231f20", "strokeWidth": 5.5}, "encoding": {"y": {"field": "m", "type": "quantitative", "scale": {"domain": [0, 200], "nice": false}, "axis": null}}}
    ], "resolve": {"axis": {"y": "independent"}}},
   {"width": 250, "height": 190, "title": {"text": "A1221 (1.0)", "offset": -9, "frame": "group"},
    "encoding": {"x": {"field": "x", "type": "quantitative", "scale": {"domain": [-2, -0.8], "reverse": true, "nice": false, "zero": false}, "axis": {"values": [-0.8, -1.1, -1.4, -1.7, -2], "labelExpr": "'-' + format(-datum.value, '.1f')", "title": null}}},
    "layer": [
     {"data": {"name": "band"}, "transform": [{"filter": "datum.p == 'D4'"}], "mark": {"type": "area", "color": "#6ccbdb"}, "encoding": {"y": {"field": "lo", "type": "quantitative", "scale": {"domain": [0, 200], "nice": false}, "axis": {"values": [0,20,40,60,80,100,120,140,160,180,200], "labelExpr": "datum.value % 40 == 0 ? datum.label : ''", "title": null}}, "y2": {"field": "hi"}}},
     {"data": {"name": "lines"}, "transform": [{"filter": "datum.p == 'D4'"}, {"fold": ["s1", "s2", "s3", "s4"]}], "mark": {"type": "line", "color": "#6ccbdb", "strokeWidth": 1}, "encoding": {"y": {"field": "value", "type": "quantitative", "scale": {"domain": [0, 200], "nice": false}, "axis": {"orient": "right", "values": [0,20,40,60,80,100,120,140,160,180,200], "labels": false, "title": null}}, "detail": {"field": "key"}}},
     {"data": {"name": "lines"}, "transform": [{"filter": "datum.p == 'D4'"}], "mark": {"type": "line", "color": "#231f20", "strokeWidth": 5.5}, "encoding": {"y": {"field": "m", "type": "quantitative", "scale": {"domain": [0, 200], "nice": false}, "axis": null}}}
    ], "resolve": {"axis": {"y": "independent"}}}
  ]}
 ]}
]}
],
"config": {
 "font": "Liberation Sans",
 "view": {"stroke": null},
 "axis": {"grid": false, "domainColor": "#4d4d4d", "domainWidth": 1.2, "tickColor": "#4d4d4d", "tickWidth": 1.2, "labelColor": "#231f20", "titleColor": "#231f20", "titleFontWeight": "normal", "labelFont": "Liberation Sans", "titleFont": "Liberation Sans"},
 "axisX": {"ticks": false, "labelFontSize": 17, "labelPadding": 4, "labelFlush": false},
 "axisY": {"tickSize": -4, "labelFontSize": 15, "labelPadding": 6, "titleFontSize": 14, "titlePadding": 12, "labelOffset": {"condition": {"test": "datum.value === 0", "value": -5}, "value": 0}},
 "title": {"font": "Liberation Sans", "fontWeight": "normal", "color": "#231f20", "fontSize": 24}
}
}
